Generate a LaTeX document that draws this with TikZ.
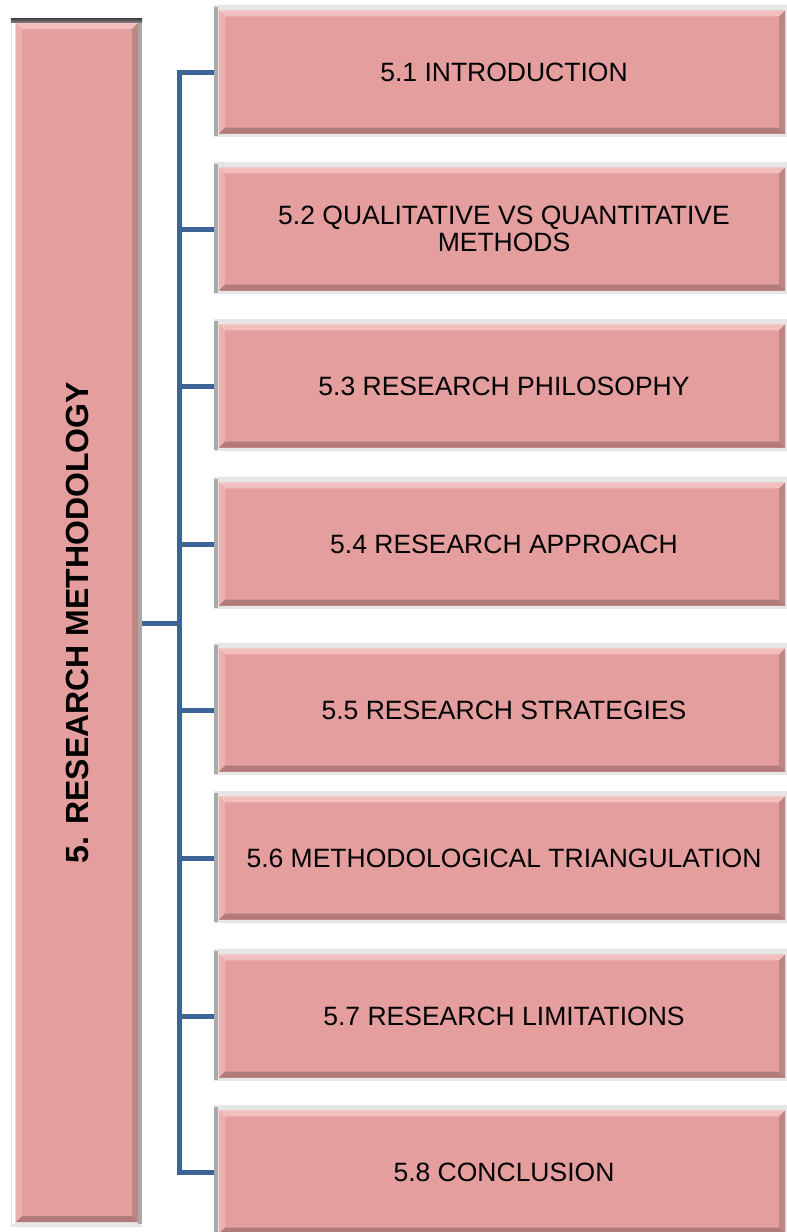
\documentclass[tikz,border=0pt]{standalone}
\usepackage{fontspec}
\setmainfont{Liberation Sans}
\usetikzlibrary{backgrounds}

\definecolor{boxpink}{HTML}{E49E9E}
\definecolor{bevtop}{HTML}{F3BEBE}
\definecolor{bevleft}{HTML}{EDB0B0}
\definecolor{bevbottom}{HTML}{B27A7A}
\definecolor{bevright}{HTML}{BE8585}
\definecolor{linkblue}{HTML}{3C6497}
\definecolor{framelight}{HTML}{E6E6E6}
\definecolor{frameside}{HTML}{A9A9A9}
\definecolor{framedark}{HTML}{4A4A4A}

\pgfdeclarelayer{paper}
\pgfsetlayers{paper,background,main}

\tikzset{
  topicbox/.style={rectangle, fill=boxpink, inner sep=0pt,
    minimum width=566pt, minimum height=123pt, align=center,
    font=\fontsize{26.5}{26.5}\selectfont},
  chapterbox/.style={rectangle, fill=boxpink, inner sep=0pt,
    minimum width=122pt, minimum height=1199pt,
    font=\fontsize{32}{32}\selectfont\bfseries},
  link/.style={draw=linkblue, line width=5pt, line join=miter}
}

% bevelled edges drawn inside a node
\newcommand{\bevelof}[2]{% node, bevel width
  \fill[bevtop] (#1.north west) -- (#1.north east)
     -- ([xshift=-#2,yshift=-#2]#1.north east) -- ([xshift=#2,yshift=-#2]#1.north west) -- cycle;
  \fill[bevleft] (#1.north west) -- ([xshift=#2,yshift=-#2]#1.north west)
     -- ([xshift=#2,yshift=#2]#1.south west) -- (#1.south west) -- cycle;
  \fill[bevbottom] (#1.south west) -- ([xshift=#2,yshift=#2]#1.south west)
     -- ([xshift=-#2,yshift=#2]#1.south east) -- (#1.south east) -- cycle;
  \fill[bevright] (#1.north east) -- (#1.south east)
     -- ([xshift=-#2,yshift=#2]#1.south east) -- ([xshift=-#2,yshift=-#2]#1.north east) -- cycle;
}

% light frame with a grey left rim behind a topic box
\newcommand{\frameof}[1]{%
  \fill[framelight] ([xshift=-5pt,yshift=5pt]#1.north west) rectangle ([xshift=2pt,yshift=-3pt]#1.south east);
  \fill[frameside] ([xshift=-5pt,yshift=3pt]#1.north west) rectangle ([xshift=-1pt,yshift=-2pt]#1.south west);
}

\begin{document}
\begin{tikzpicture}[x=1pt, y=-1pt]
\useasboundingbox (0,0) rectangle (787,1232);
\begin{pgfonlayer}{paper}
  \fill[white] (0,0) rectangle (787,1232);
\end{pgfonlayer}

% chapter box
\node[chapterbox] (root) at (77,622.5) {\rotatebox{90}{5. RESEARCH METHODOLOGY}};

% section boxes
\node[topicbox] (s1) at (502,72)   {\hspace*{4pt}5.1 INTRODUCTION};
\node[topicbox] (s2) at (502,229)  {\hspace*{4pt}5.2 QUALITATIVE VS QUANTITATIVE\\\hspace*{4pt}METHODS};
\node[topicbox] (s3) at (502,386)  {\hspace*{4pt}5.3 RESEARCH PHILOSOPHY};
\node[topicbox] (s4) at (502,544)  {\hspace*{4pt}5.4 RESEARCH APPROACH};
\node[topicbox] (s5) at (502,710)  {\hspace*{4pt}5.5 RESEARCH STRATEGIES};
\node[topicbox] (s6) at (502,858)  {\hspace*{4pt}5.6 METHODOLOGICAL TRIANGULATION};
\node[topicbox] (s7) at (502,1016) {\hspace*{4pt}5.7 RESEARCH LIMITATIONS};
\node[topicbox] (s8) at (502,1172) {\hspace*{4pt}5.8 CONCLUSION};

\begin{pgfonlayer}{background}
  % chapter box frame: dark top rim, light left rim, grey right rim
  \fill[framelight] ([xshift=-5pt,yshift=4pt]root.north west) rectangle ([xshift=4pt,yshift=-5pt]root.south east);
  \fill[white] ([xshift=-4pt]root.north west) rectangle ([xshift=-1pt,yshift=-2pt]root.south west);
  \fill[frameside] (root.north east) rectangle ([xshift=4pt,yshift=-2pt]root.south east);
  \shade[top color=framedark, bottom color=framedark!70!white]
     ([xshift=-5pt,yshift=4pt]root.north west) rectangle ([xshift=4pt]root.north east);
  \frameof{s1}\frameof{s2}\frameof{s3}\frameof{s4}
  \frameof{s5}\frameof{s6}\frameof{s7}\frameof{s8}
\end{pgfonlayer}

\bevelof{root}{6pt}
\bevelof{s1}{6pt}\bevelof{s2}{6pt}\bevelof{s3}{6pt}\bevelof{s4}{6pt}
\bevelof{s5}{6pt}\bevelof{s6}{6pt}\bevelof{s7}{6pt}\bevelof{s8}{6pt}

% bracket connectors
\coordinate (spine) at (179,623);
\draw[link, shorten <=4pt] (root.east |- spine) -- (spine);
\draw[link, shorten <=5pt, shorten >=5pt]
  (s1.west) -- (s1.west -| spine) -- (s8.west -| spine) -- (s8.west);
\foreach \s in {s2,s3,s4,s5,s6,s7}
  \draw[link, shorten >=5pt] (\s.west -| spine) -- (\s.west);
\end{tikzpicture}
\end{document}
